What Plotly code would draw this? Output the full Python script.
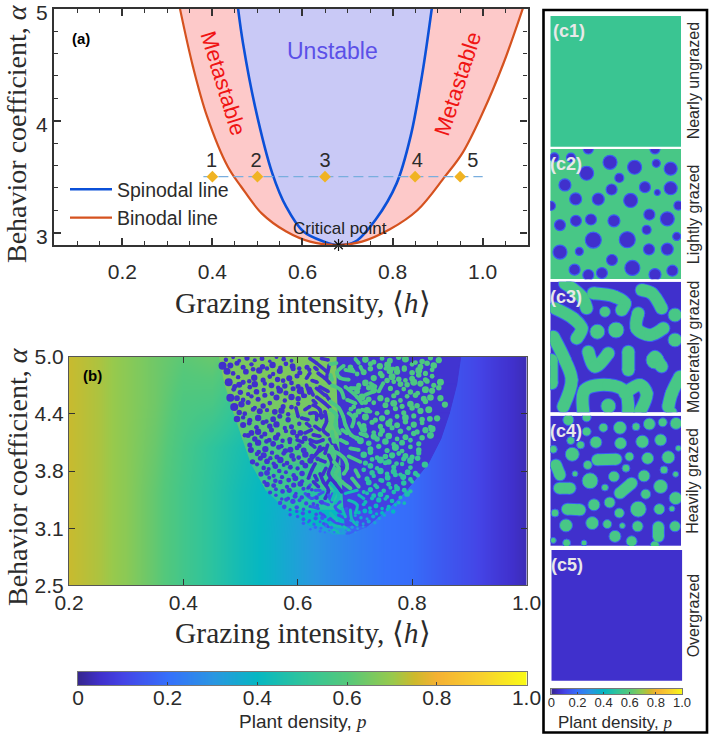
import plotly.graph_objects as go
from plotly.colors import sample_colorscale

W, H = 709, 736
SANS = "Liberation Sans"
SERIF = "Liberation Serif"
INK = "#2b2b2b"

colorscale = [[0, "#36278f"], [0.05, "#4030cc"], [0.1, "#4444e6"], [0.2, "#3570fb"], [0.3, "#2a96e2"],
              [0.4, "#06b7c2"], [0.5, "#2fc49c"], [0.6, "#55c87a"], [0.7, "#98c94c"], [0.75, "#cdb92c"],
              [0.8, "#f5b133"], [0.9, "#f8d12e"], [1.0, "#f9fb15"]]
cbar_levels = [0, .05, .1, .2, .3, .4, .5, .6, .7, .75, .8, .9, 1.0]
cbar_ticks = [0, .2, .4, .6, .8, 1.0]
cbar_text = ["0", "0.2", "0.4", "0.6", "0.8", "1.0"]

# ---------- panel (a) ----------
binodal_h = [.328, .357, .388, .434, .464, .51, .564, .617, .679, .732, .794, .855, .916, .955, 1.0, 1.046, 1.089]
binodal_a = [5, 4.48, 4.04, 3.59, 3.41, 3.17, 3.01, 2.92, 2.89, 2.92, 3.03, 3.2, 3.5, 3.71, 4.07, 4.51, 5]
spinodal_h = [.457, .468, .495, .533, .564, .602, .648, .679, .717, .763, .809, .84, .866, .887]
spinodal_a = [5, 4.69, 4.12, 3.53, 3.23, 3.01, 2.92, 2.89, 2.92, 3.12, 3.44, 3.86, 4.42, 5]
state_h = [.4, .5, .65, .85, .95]
state_labels = ["1", "2", "3", "4", "5"]
state_label_h = [.398, .497, .65, .855, .978]
state_alpha = 3.5
state_label_alpha = 3.63
critical_h, critical_a = .68, 2.89

# ---------- panel (b) background: p(h, alpha) ----------
bg_h = [.2, .25, .3, .35, .4, .45, .5, .55, .6, .65, .7, .75, .8, .85, .9, .95, 1.0]
bg_alpha = [2.5, 3.0, 3.5, 4.0, 4.5, 5.0]
bg_p = [
    [.745, .72, .68, .62, .55, .49, .43, .385, .33, .28, .24, .205, .19, .15, .115, .07, .03],
    [.745, .72, .68, .62, .55, .49, .43, .385, .33, .28, .24, .205, .19, .15, .115, .07, .03],
    [.745, .72, .68, .62, .55, .49, .43, .39, .34, .28, .24, .205, .19, .15, .115, .07, .03],
    [.745, .72, .68, .63, .56, .50, .45, .40, .34, .28, .24, .205, .19, .15, .115, .07, .03],
    [.745, .72, .68, .64, .58, .57, .50, .40, .34, .28, .24, .205, .19, .15, .115, .07, .03],
    [.745, .72, .68, .64, .61, .63, .58, .45, .34, .28, .24, .205, .19, .15, .115, .07, .03],
]
bowl_alpha = [5.0, 4.7, 4.38, 4.1, 3.83, 3.54, 3.32, 3.14, 3.06]
bowl_left = [.462, .472, .488, .503, .518, .544, .58, .622, .66]
bowl_mid = [.668, .668, .67, .672, .675, .678, .68, .682, .684]
bowl_right = [.885, .878, .865, .85, .828, .79, .755, .72, .69]
bowl_green = [.66, .65, .62, .58, .54, .48, .40, .33, .28]
bowl_dark = [.06, .06, .06, .065, .07, .09, .12, .17, .2]

# dots read along rows of the pattern (h as read, corrected by pattern_h_scale)
pattern_h_scale = .972
dark_alpha = [4.976, 4.90, 4.84, 4.76, 4.69, 4.62, 4.55, 4.47, 4.40, 4.32, 4.25, 4.17, 4.11, 4.05,
              3.98, 3.92, 3.86, 3.80, 3.72, 3.66, 3.60, 3.53, 3.47, 3.41, 3.35, 3.29, 3.23, 3.18, 3.13, 3.09]
dark_size = [4.5, 5.5, 5.5, 5.5, 5.5, 5.5, 5.5, 5.5, 5.5, 5.5, 5.5, 5.5, 5.5, 5.5, 5.5, 5.5, 5.5, 5, 5, 5, 5, 4.5,
             4.5, 4.5, 4, 4, 3.8, 3.4, 3, 2.6]
dark_p = [.05, .05, .05, .05, .05, .05, .05, .05, .05, .05, .05, .05, .05, .05, .06, .06, .06, .06, .07, .07, .07, .08,
          .09, .1, .11, .12, .14, .16, .18, .2]
dark_h = [
    [.488, .501, .512, .526, .54, .553, .567, .579, .592, .606],
    [.496, .508, .519, .534, .554, .562, .572, .586, .596, .608, .62, .634],
    [.501, .524, .537, .548, .573, .585, .609, .621, .638],
    [.51, .53, .539, .555, .567, .581, .591, .602, .616],
    [.504, .512, .519, .531, .54, .558, .57, .582, .594, .606, .618],
    [.502, .514, .528, .543, .556, .571, .585, .596, .609, .621],
    [.508, .519, .534, .546, .558, .579, .594, .606, .618, .63],
    [.516, .528, .54, .555, .567, .591, .606, .618],
    [.512, .522, .537, .549, .562, .576, .588, .6],
    [.519, .531, .546, .561, .573, .585, .6],
    [.519, .53, .543, .555, .567, .579, .594, .606, .62],
    [.522, .534, .546, .558, .57, .582, .596, .609, .622],
    [.528, .54, .552, .566, .578, .59, .603, .616, .63],
    [.531, .546, .561, .573, .588, .603, .62],
    [.547, .559, .571, .583, .595, .604, .616, .628],
    [.544, .556, .568, .58, .592, .607, .619, .631, .643],
    [.536, .55, .562, .574, .586, .598, .61, .625, .64, .653],
    [.544, .556, .565, .577, .592, .604, .617, .631],
    [.551, .562, .574, .584, .596, .61, .625],
    [.557, .566, .577, .589, .601, .613, .625],
    [.562, .574, .586, .598, .61, .622, .637],
    [.5675, .578, .59, .602, .614, .6275, .6425],
    [.578, .5885, .6, .6125, .6245, .6365, .6515],
    [.5855, .5965, .6085, .6205, .6325, .6455, .6605],
    [.593, .6035, .6155, .6275, .6395, .6525],
    [.6035, .6155, .6265, .6385, .6505, .6635],
    [.617, .6275, .6385, .6495, .6615, .673],
    [.6275, .6365, .6465, .6575, .6685],
    [.64, .649, .659, .668, .678],
    [.6575, .666, .674, .683],
]
# each digit: how far a dot sits off its row and how big it looks (hand estimate, 0..9)
dark_drift = ["3716250841", "592730618402", "148605927", "706283159", "25916740382", "8304716295", "4172950638",
              "69038217", "31857460", "7260493", "581936027", "04629175", "93715028", "2684071",
              "16093584", "750284163", "3940617258", "82057316", "4619725", "0728361", "5391460", "2846097",
              "7015382", "3968214", "605179", "184720", "930562", "47281", "06395", "5172"]
dark_big_h = [.482, .490, .493, .496, .503, .508, .533]
dark_big_a = [4.90, 4.84, 4.72, 4.55, 4.45, 4.32, 3.98]
dark_big_size = [8, 7, 8, 8, 8, 6.5, 6]

green_alpha = [4.965, 4.90, 4.84, 4.77, 4.71, 4.63, 4.55, 4.48, 4.41, 4.33, 4.26, 4.20, 4.13, 4.07,
               3.997, 3.925, 3.86, 3.81, 3.74, 3.68, 3.615, 3.55, 3.49, 3.425, 3.365, 3.305, 3.25, 3.19, 3.13, 3.09]
green_size = [6, 6, 6, 6, 6, 6, 6, 6, 6, 6, 6, 6, 6, 6, 6, 6, 6, 5.5, 5.5, 5.5, 5, 5, 5, 4.5, 4.5, 4.2, 3.8, 3.5, 3, 2.6]
green_p = [.58, .58, .58, .58, .58, .58, .58, .58, .58, .57, .57, .56, .56, .55, .55, .54, .53, .52, .51, .5, .49, .48,
           .46, .44, .42, .4, .37, .34, .31, .29]
green_h = [
    [.739, .754, .769, .783, .799, .811, .829, .841, .856, .871],
    [.712, .748, .765, .779, .796, .809, .823, .838, .85, .862],
    [.715, .724, .736, .748, .766, .783, .796, .809, .823, .835, .847, .859],
    [.754, .769, .787, .799, .811, .823, .835, .847, .859],
    [.727, .739, .751, .778, .79, .802, .814, .826, .838, .85, .862, .874],
    [.724, .745, .754, .784, .796, .808, .82, .833, .847, .859, .871],
    [.733, .745, .766, .778, .79, .802, .814, .829, .844, .856, .874],
    [.718, .739, .754, .775, .79, .805, .82, .832, .847, .882],
    [.713, .727, .742, .76, .778, .793, .808, .823, .838, .853],
    [.721, .739, .757, .769, .784, .796, .811, .826, .841, .855, .868],
    [.736, .751, .766, .781, .796, .811, .826, .841, .856],
    [.736, .754, .769, .787, .802, .817, .832, .847, .859],
    [.724, .739, .754, .766, .781, .796, .811, .826, .841, .856],
    [.73, .745, .76, .775, .79, .805, .82, .835],
    [.748, .763, .778, .793, .805, .82, .835],
    [.736, .748, .76, .775, .787, .799, .811, .823, .835],
    [.739, .751, .766, .781, .795, .808, .82, .833],
    [.748, .76, .775, .79, .805, .82, .846],
    [.736, .751, .766, .778, .79, .802, .815, .829],
    [.742, .754, .766, .779, .793, .807, .82, .833],
    [.745, .757, .769, .781, .794, .808, .823],
    [.736, .748, .76, .772, .784, .796, .809, .82],
    [.742, .754, .766, .778, .79, .802, .814],
    [.739, .751, .763, .775, .787, .799, .809],
    [.736, .747, .758, .769, .781, .793],
    [.727, .738, .748, .759, .769, .779, .789],
    [.721, .731, .742, .753, .764, .773],
    [.713, .724, .735, .745, .756],
    [.706, .715, .725, .735],
    [.694, .703, .712, .721],
]
green_drift = ["5173960284", "2846017395", "703915482617", "486203917", "150973264816", "39581720649", "6241807935",
               "0873615294", "7350281946", "96140758234", "281639470", "503827146", "1748503926", "62950371",
               "3816072", "590247318", "17630859", "4092716", "83615042", "27049518", "6193057",
               "04827631", "7351906", "2968410", "815037", "3640295", "720518", "94163", "0628", "5371"]

green_worms_upper = [
    [(.700, 4.90), (.688, 4.83), (.693, 4.77), (.709, 4.75)],
    [(.676, 4.92), (.687, 4.93)],
    [(.679, 4.685), (.694, 4.64), (.700, 4.55)],
    [(.703, 4.67), (.724, 4.56), (.733, 4.49)],
    [(.676, 4.51), (.691, 4.44), (.699, 4.345), (.703, 4.255), (.713, 4.145), (.724, 4.11)],
    [(.676, 4.42), (.687, 4.36), (.685, 4.255), (.693, 4.16)],
    [(.73, 4.16), (.742, 4.13)],
    [(.771, 4.71), (.763, 4.62)],
    [(.73, 4.89), (.736, 4.82)],
    [(.775, 4.87), (.79, 4.87)],
    [(.721, 4.975), (.727, 4.93)],
    [(.733, 4.42), (.748, 4.40)],
    [(.703, 4.856), (.718, 4.838)],
    [(.712, 4.655), (.727, 4.655)],
    [(.706, 4.528), (.721, 4.49)],
    [(.709, 4.382), (.718, 4.327), (.715, 4.236)],
    [(.727, 4.273), (.733, 4.2)],
    [(.697, 4.2), (.706, 4.163)],
    [(.748, 4.71), (.757, 4.674)],
    [(.754, 4.62), (.739, 4.583)],
    [(.676, 4.8), (.679, 4.747)],
    [(.679, 4.18), (.682, 4.07)],
    [(.694, 4.09), (.706, 4.054)],
    [(.676, 3.98), (.691, 3.94), (.703, 3.87), (.706, 3.78), (.70, 3.72)],
    [(.682, 3.85), (.691, 3.78), (.685, 3.706), (.697, 3.63), (.712, 3.56)],
    [(.709, 3.91), (.73, 3.85)],
    [(.712, 3.998), (.727, 3.98)],
    [(.721, 3.76), (.727, 3.69)],
    [(.715, 3.67), (.727, 3.578)],
]
green_worms_lower = [
    [(.676, 3.615), (.691, 3.487), (.685, 3.40)],
    [(.703, 3.505), (.724, 3.54)],
    [(.709, 3.43), (.724, 3.38), (.721, 3.29)],
    [(.697, 3.34), (.703, 3.25)],
    [(.676, 3.29), (.688, 3.21)],
    [(.676, 3.16), (.694, 3.14)],
    [(.727, 3.487), (.736, 3.45)],
    [(.712, 3.323), (.715, 3.214), (.724, 3.159)],
    [(.685, 3.524), (.679, 3.433)],
    [(.70, 3.14), (.709, 3.105)],
    [(.682, 3.105), (.691, 3.079)],
]
dark_worms_upper = [
    [(.639, 4.98), (.651, 4.93), (.669, 4.84)],
    [(.654, 4.82), (.666, 4.765), (.675, 4.71)],
    [(.639, 4.82), (.633, 4.765)],
    [(.651, 4.56), (.666, 4.49), (.675, 4.44)],
    [(.639, 4.655), (.645, 4.58)],
    [(.614, 4.44), (.618, 4.345)],
    [(.657, 4.67), (.672, 4.62)],
    [(.639, 4.38), (.65, 4.38), (.651, 4.31)],
    [(.666, 4.40), (.669, 4.29), (.663, 4.20), (.672, 4.145)],
    [(.633, 4.27), (.639, 4.24)],
    [(.645, 4.145), (.657, 4.13)],
    [(.616, 4.09), (.626, 4.065)],
    [(.633, 4.69), (.638, 4.60)],
    [(.624, 4.655), (.627, 4.565)],
    [(.651, 4.655), (.666, 4.58)],
    [(.645, 4.47), (.657, 4.42), (.66, 4.33)],
    [(.63, 4.42), (.639, 4.455)],
    [(.624, 4.33), (.636, 4.31)],
    [(.648, 4.24), (.657, 4.2)],
    [(.63, 4.165), (.642, 4.2)],
    [(.639, 4.09), (.651, 4.065), (.663, 4.09)],
    [(.669, 4.765), (.674, 4.91)],
    [(.66, 4.98), (.672, 4.965)],
    [(.6545, 3.96), (.6635, 3.998)],
    [(.6845, 4.03), (.6905, 3.925), (.6875, 3.815), (.6995, 3.78)],
    [(.6725, 3.925), (.6785, 3.83), (.6725, 3.72), (.6845, 3.615), (.6965, 3.52)],
    [(.6575, 3.87), (.6665, 3.85)],
    [(.6365, 3.67), (.6425, 3.76), (.6485, 3.83)],
    [(.6575, 3.72), (.6635, 3.63), (.6725, 3.54), (.6665, 3.45)],
    [(.6425, 3.888), (.6515, 3.943), (.6575, 4.016)],
    [(.6665, 3.943), (.671, 4.034)],
    [(.6455, 3.633), (.6545, 3.578)],
    [(.648, 4.88), (.652, 4.86)],
    [(.643, 4.74), (.652, 4.72)],
    [(.645, 4.52), (.65, 4.49)],
    [(.655, 4.36), (.664, 4.35)],
    [(.668, 4.58), (.674, 4.53)],
    [(.64, 4.05), (.648, 4.01)],
    [(.675, 4.1), (.68, 4.05)],
    [(.668, 3.78), (.662, 3.71)],
    [(.648, 3.7), (.652, 3.65)],
    [(.675, 3.66), (.668, 3.6)],
]
dark_worms_lower = [
    [(.6485, 3.54), (.6575, 3.54)],
    [(.6935, 3.415), (.6845, 3.36), (.6935, 3.305), (.7055, 3.34)],
    [(.6575, 3.415), (.6725, 3.38)],
    [(.6755, 3.23), (.6875, 3.18), (.6995, 3.16)],
    [(.6575, 3.29), (.6665, 3.25)],
    [(.6305, 3.505), (.6425, 3.45), (.6515, 3.47)],
    [(.6425, 3.36), (.6545, 3.34)],
    [(.6785, 3.414), (.6725, 3.487)],
    [(.6635, 3.177), (.6725, 3.14)],
    [(.6905, 3.27), (.7025, 3.23)],
    [(.64, 3.6), (.635, 3.56)],
    [(.663, 3.52), (.655, 3.49)],
    [(.68, 3.5), (.675, 3.45)],
]

# ---------- panels (c): lattice positions in percent of the domain ----------
p_ungrazed, p_over, p_green, p_dark = .53, .05, .565, .05
c2_x = [3.1, 15.8, 29.1, 80.1, 45.7, 64.5, 81.1, 92.1, 27.8, 52.8, 11.2, 46.9, 72.4, 81.9, 92.1, 19.4, 36.7, 61.5, .5,
        98, 75.8, 89.5, 7.4, 19.6, 31.1, 48.7, 73.7, 96.7, 32.9, 58.9, 22.2, 7.4, 75.5, 89.5, 47.2, 62.8, 18.6, 29.1,
        39.5, 80.1, 93.4]
c2_y = [93.6, 93.4, 100, 100, 89.8, 86, 89, 84.9, 81.4, 77.8, 72.4, 68.9, 70.7, 66.6, 69.9, 61.7, 61.5, 60.5, 56.4,
        56.6, 49.7, 46.4, 41.6, 44.9, 45.9, 44.9, 38, 32.9, 30.1, 30.4, 21.4, 20.9, 23, 23.2, 14.8, 8.7, 7.4, 3.3,
        4.8, 3.6, 6.6]
c2_d = [9, 9, 10, 10, 14, 14, 8, 13, 14, 9, 12, 11, 11, 6, 13, 12, 12, 14, 9, 9, 11, 14, 11, 11, 11, 12, 9, 8, 16, 16, 8,
        14, 11, 12, 11, 15, 11, 11, 11, 12, 11]

c3_worms = [
    [(11.2, 98.7), (24, 88.5), (27.8, 79.6)],
    [(3.6, 79.6), (17.6, 71.9), (24, 64.3), (20.2, 56.6)],
    [(32.9, 91.1), (49.5, 88.5), (57.1, 83.4), (54.6, 78.3)],
    [(69.9, 93.6), (77.6, 91.1), (85.2, 79.6)],
    [(67.3, 75.8), (66.1, 64.3), (76.3, 59.2), (86.5, 64.3)],
    [(29.1, 46.4), (34.2, 35), (44.4, 45.2)],
    [(59.7, 46.4), (59.7, 32.4)],
    [(80.1, 42.6), (85.2, 35)],
    [(2.3, 57.9), (11.2, 40), (16.3, 24.7), (9.9, 4.3)],
    [(1, 40), (1, 22.2)],
    [(25.3, .5), (26.5, 17.1), (44.4, 20.9), (57.1, 15.8), (59.7, .5)],
    [(57.1, 14.5), (68.6, 20.9), (73.7, 14.5), (68.6, .5)],
    [(99.2, 27.3), (92.9, 14.5), (90.3, 4.3)],
]
c3_blob_x = [41.8, 36, 50.3, 95.4, 95.4, 44.4, 92.9, 80.1]
c3_blob_y = [77, 61.7, 63, 74.5, 55.4, 4.8, 0, 40]
c3_blob_d = [11, 15, 16, 14, 14, 15, 11, 18]

c4_x = [40.6, 53.3, 65.6, 75.8, 86, 96.2, 13.8, 27.8, 27.8, 15.6, 23.2, 34.9, 53.8, 70.4, 84.4, 2.3, 16.8, 60.5, 74.5,
        90.3, 98, 28.6, 57.9, 18.9, 48.7, 71.7, 87, 95.9, 30.4, 41.8, 73, 84.4, 95.9, 33.4, 45.4, 52.8, 67.3, 83.4,
        93.1, 3.6, 12, 32.1, 43.6, 55.1, 66.8, 95.4, 2.3, 12.5, 49.5, 62.2, 25.8, 80]
c4_y = [90.8, 90.8, 91.6, 93.6, 94.9, 94.1, 96.7, 98.7, 87.8, 80.9, 77.6, 79.6, 78.8, 80.1, 81.4, 74.2, 70.4, 68.6,
        67.3, 68.1, 75, 62.2, 59.7, 55.4, 53.3, 53.8, 58.4, 55.1, 50, 44.9, 39.8, 45.7, 36.7, 31.6, 33.4, 25.3, 28.3,
        28.3, 28.6, 25.3, 15.8, 17.6, 16.8, 15.6, 15.1, 15.1, 4.3, 2.3, 7.4, 3.6, 2.3, .5]
c4_d = [9, 13, 8, 12, 9, 12, 11, 9, 9, 8, 8, 12, 12, 13, 12, 8, 14, 9, 12, 13, 6, 9, 8, 6, 11, 12, 8, 6, 16, 7, 10, 14,
        13, 12, 11, 10, 16, 11, 6, 8, 13, 13, 9, 6, 11, 11, 6, 8, 12, 11, 6, 9]
c4_worms = [
    [(36, 66.1), (50.3, 66.6)],
    [(4.3, 62.2), (7.4, 54.6)],
    [(6.9, 44.4), (15.1, 44.4)],
    [(53.3, 40.6), (62.2, 48.2)],
    [(13, 28.3), (22.7, 27.8)],
    [(82.7, 14.5), (82.7, 7.4)],
]
c_names = ["Nearly ungrazed", "Lightly grazed", "Moderately grazed", "Heavily grazed", "Overgrazed"]


def pc(p):
    return sample_colorscale(colorscale, [p])[0]


def dx(l, r):
    return [l / W, r / W]


def dy(t, b):
    return [1 - b / H, 1 - t / H]


def join(worms, scale=1.0):
    xs, ys = [], []
    for w in worms:
        xs += [q[0] * scale for q in w] + [None]
        ys += [q[1] for q in w] + [None]
    return xs, ys


fig = go.Figure()

# ---- panel a
fig.add_trace(go.Scatter(x=binodal_h, y=binodal_a, mode="lines", line=dict(width=0, shape="spline"), fill="toself",
                         fillcolor="#fdc9c9", showlegend=False, hoverinfo="skip"))
fig.add_trace(go.Scatter(x=spinodal_h, y=spinodal_a, mode="lines", line=dict(width=0, shape="spline"), fill="toself",
                         fillcolor="#c9c9f6", showlegend=False, hoverinfo="skip"))
fig.add_trace(go.Scatter(x=spinodal_h, y=spinodal_a, mode="lines", name="Spinodal line",
                         line=dict(color="#0b50d8", width=2.6, shape="spline")))
fig.add_trace(go.Scatter(x=binodal_h, y=binodal_a, mode="lines", name="Binodal line",
                         line=dict(color="#d5521f", width=2.2, shape="spline")))
fig.add_trace(go.Scatter(x=[.38, 1.0], y=[state_alpha] * 2, mode="lines", showlegend=False,
                         line=dict(color="#79aede", width=1.3, dash="10px,5px")))
fig.add_trace(go.Scatter(x=state_h, y=[state_alpha] * 5, mode="markers",
                         marker=dict(symbol="diamond", size=9, color="#f0b323"), showlegend=False))
fig.add_trace(go.Scatter(x=state_label_h, y=[state_label_alpha] * 5, mode="text", text=state_labels, showlegend=False,
                         textfont=dict(family=SANS, size=20, color=INK)))
fig.add_trace(go.Scatter(x=[critical_h], y=[critical_a], mode="markers", showlegend=False, cliponaxis=False,
                         marker=dict(symbol="asterisk-open", size=10, color="#111", line=dict(color="#111", width=1.2))))

# ---- panel b
fig.add_trace(go.Heatmap(x=bg_h, y=bg_alpha, z=bg_p, xaxis="x2", yaxis="y2", zsmooth="best", zmin=0, zmax=1,
                         colorscale=colorscale, hoverinfo="skip", showscale=False))
for i in range(len(bowl_alpha) - 1):
    ys = [bowl_alpha[i], bowl_alpha[i], bowl_alpha[i + 1], bowl_alpha[i + 1]]
    for a, b, c in ((bowl_left, bowl_mid, bowl_green), (bowl_mid, bowl_right, bowl_dark)):
        col = pc(c[i])
        fig.add_trace(go.Scatter(x=[a[i], b[i], b[i + 1], a[i + 1]], y=ys, xaxis="x2", yaxis="y2", mode="lines",
                                 fill="toself", fillcolor=col, line=dict(color=col, width=1), showlegend=False,
                                 hoverinfo="skip"))
for worms, p, wd in ((dark_worms_upper, .05, 3.6), (dark_worms_lower, .13, 3),
                     (green_worms_upper, .57, 3.8), (green_worms_lower, .44, 3)):
    xs, ys = join(worms, pattern_h_scale)
    fig.add_trace(go.Scatter(x=xs, y=ys, xaxis="x2", yaxis="y2", mode="lines+markers", showlegend=False,
                             line=dict(color=pc(p), width=wd, shape="spline"),
                             marker=dict(color=pc(p), size=wd, opacity=1), hoverinfo="skip"))
for alpha_rows, h_rows, sizes, ps, drift in ((dark_alpha, dark_h, dark_size, dark_p, dark_drift),
                                             (green_alpha, green_h, green_size, green_p, green_drift)):
    for a, hs, s, p, dr in zip(alpha_rows, h_rows, sizes, ps, drift):
        digits = [int(c) for c in dr] + [4] * len(hs)
        fig.add_trace(go.Scatter(x=[h * pattern_h_scale for h in hs],
                                 y=[a + (digits[j] - 4.5) * .0065 * min(1, s / 5) for j in range(len(hs))],
                                 xaxis="x2", yaxis="y2", mode="markers", showlegend=False, hoverinfo="skip",
                                 marker=dict(color=pc(p), size=[s * (.8 + .06 * (digits[j] % 7)) for j in range(len(hs))],
                                             opacity=1, line=dict(width=0))))
fig.add_trace(go.Scatter(x=[h * pattern_h_scale for h in dark_big_h], y=dark_big_a, xaxis="x2", yaxis="y2",
                         mode="markers", showlegend=False, hoverinfo="skip",
                         marker=dict(color=pc(.05), size=dark_big_size, opacity=1, line=dict(width=0))))

# ---- panels c
for n, v in ((3, p_ungrazed), (4, p_green), (5, p_dark), (6, p_dark), (7, p_over)):
    fig.add_trace(go.Heatmap(z=[[v, v], [v, v]], x=[0, 100], y=[0, 100], xaxis=f"x{n}", yaxis=f"y{n}", zmin=0, zmax=1,
                             colorscale=colorscale, hoverinfo="skip", showscale=False, zsmooth="best"))

fig.add_trace(go.Scatter(x=c2_x, y=c2_y, xaxis="x4", yaxis="y4", mode="markers", showlegend=False, hoverinfo="skip",
                         marker=dict(color=pc(p_dark), size=c2_d, opacity=1, line=dict(color=pc(.16), width=1.2))))

xs3, ys3 = join(c3_worms)
xs4, ys4 = join(c4_worms)
for n, xs, ys, wd, bx, by, bd in ((5, xs3, ys3, 12, c3_blob_x, c3_blob_y, c3_blob_d), (6, xs4, ys4, 11, c4_x, c4_y, c4_d)):
    halo = pc(.16)
    fig.add_trace(go.Scatter(x=xs, y=ys, xaxis=f"x{n}", yaxis=f"y{n}", mode="lines+markers", showlegend=False,
                             line=dict(color=halo, width=wd + 2, shape="spline"),
                             marker=dict(color=halo, size=wd + 2, opacity=1), hoverinfo="skip"))
    fig.add_trace(go.Scatter(x=bx, y=by, xaxis=f"x{n}", yaxis=f"y{n}", mode="markers", showlegend=False, hoverinfo="skip",
                             marker=dict(color=pc(p_green), size=bd, opacity=1, line=dict(color=halo, width=1))))
    fig.add_trace(go.Scatter(x=xs, y=ys, xaxis=f"x{n}", yaxis=f"y{n}", mode="lines+markers", showlegend=False,
                             line=dict(color=pc(p_green), width=wd, shape="spline"),
                             marker=dict(color=pc(p_green), size=wd, opacity=1), hoverinfo="skip"))

# ---- gradient strips (colour keys)
for n in (8, 9):
    fig.add_trace(go.Heatmap(x=cbar_levels, y=[0, 1], z=[cbar_levels, cbar_levels], xaxis=f"x{n}", yaxis=f"y{n}",
                             zmin=0, zmax=1, colorscale=colorscale, zsmooth="best", showscale=False, hoverinfo="skip"))

# ---- axes
axfont = dict(family=SANS, size=21, color=INK)
layout = dict(
    width=W, height=H, margin=dict(l=0, r=0, t=0, b=0, autoexpand=False), paper_bgcolor="white", plot_bgcolor="white",
    showlegend=True,
    legend=dict(x=65 / W, xanchor="left", y=1 - 170 / H, yanchor="top", bgcolor="rgba(0,0,0,0)", itemwidth=42,
                font=dict(family=SANS, size=19.5, color=INK), tracegroupgap=0),
    xaxis=dict(domain=dx(54, 527.5), range=[.0484, 1.0995], tickvals=[.2, .4, .6, .8, 1.0],
               ticktext=["0.2", "0.4", "0.6", "0.8", "1.0"], ticks="inside", ticklen=7, tickwidth=1.6, tickcolor="#333",
               mirror="allticks", showline=True, linecolor="#333", linewidth=2.2, showgrid=False, zeroline=False,
               tickfont=axfont, ticklabelstandoff=7,
               minor=dict(dtick=.05, tick0=0, ticks="inside", ticklen=4, tickwidth=1.4, tickcolor="#333")),
    yaxis=dict(domain=dy(8.5, 245), range=[2.89, 5.001], tickvals=[3, 4, 5], ticks="inside", ticklen=7, tickwidth=1.6,
               tickcolor="#333", mirror="allticks", showline=True, linecolor="#333", linewidth=2.2, showgrid=False,
               zeroline=False, tickfont=axfont, ticklabeloverflow="allow", ticklabelshift=4,
               minor=dict(dtick=.2, tick0=3, ticks="inside", ticklen=4, tickwidth=1.4, tickcolor="#333")),
    xaxis2=dict(domain=dx(69, 526.5), range=[.2, 1.0], tickvals=[.2, .4, .6, .8, 1.0],
                ticktext=["0.2", "0.4", "0.6", "0.8", "1.0"], ticks="inside", ticklen=6, tickwidth=1.4, tickcolor="#333",
                mirror="allticks", showline=True, linecolor="#555", linewidth=1, showgrid=False, zeroline=False,
                tickfont=axfont, ticklabelstandoff=-2, anchor="y2"),
    yaxis2=dict(domain=dy(356.7, 585.3), range=[2.5, 5], tickvals=[2.5, 3.125, 3.75, 4.375, 5],
                ticktext=["2.5", "3.1", "3.8", "4.4", "5.0"], ticks="inside", ticklen=6, tickwidth=1.4, tickcolor="#333",
                mirror="allticks", showline=True, linecolor="#555", linewidth=1, showgrid=False, zeroline=False,
                tickfont=axfont, anchor="x2"),
)
c_boxes = [(550.3, 681, 16, 146.7), (550.3, 681, 149, 279.3), (550.3, 681, 281.7, 412.3), (550.3, 681, 415.7, 546),
           (551.3, 682.3, 550, 680.7)]
for k, (l, r, t, b) in enumerate(c_boxes):
    n = k + 3
    layout[f"xaxis{n}"] = dict(domain=dx(l, r), range=[0, 100], visible=False, anchor=f"y{n}")
    layout[f"yaxis{n}"] = dict(domain=dy(t, b), range=[0, 100], visible=False, anchor=f"x{n}")
strips = [(8, 78, 526.5, 672, 685, 21, -6, 3), (9, 551.3, 682, 689, 694, 13, -4, 2)]
for n, l, r, t, b, fs, standoff, tl in strips:
    layout[f"xaxis{n}"] = dict(domain=dx(l, r), range=[0, 1], tickvals=cbar_ticks, ticktext=cbar_text, ticks="inside",
                               ticklen=tl, tickwidth=1, tickcolor="#444", showline=True, mirror=True, linecolor="#777",
                               linewidth=1, showgrid=False, zeroline=False, ticklabelstandoff=standoff,
                               tickfont=dict(family=SANS, size=fs, color=INK), anchor=f"y{n}")
    layout[f"yaxis{n}"] = dict(domain=dy(t, b), range=[0, 1], showticklabels=False, ticks="", showline=True, mirror=True,
                               linecolor="#777", linewidth=1, showgrid=False, zeroline=False, anchor=f"x{n}")
fig.update_layout(**layout)

# ---- frame and annotations
fig.add_shape(type="rect", xref="paper", yref="paper", x0=543.5 / W, x1=707 / W, y0=1 - 732.5 / H, y1=1 - 10 / H,
              line=dict(color="black", width=2.6), fillcolor="rgba(0,0,0,0)")


def note(text, x, y, xref="x", yref="y", size=14, color="black", bold=False, angle=0, family=SANS):
    fig.add_annotation(text=f"<b>{text}</b>" if bold else text, x=x, y=y, xref=xref, yref=yref, showarrow=False,
                       textangle=angle, font=dict(family=family, size=size, color=color), xanchor="center",
                       yanchor="middle")


def pnote(text, px, py, **kw):
    note(text, px / W, 1 - py / H, xref="paper", yref="paper", **kw)


note("(a)", .108, 4.73, size=15, bold=True)
note("Unstable", .667, 4.62, size=23, color="#5b50e8")
note("Metastable", .424, 4.33, size=22, color="#f01414", angle=73)
note("Metastable", .945, 4.33, size=22, color="#f01414", angle=-72)
note("Critical point", .683, 3.04, size=17, color="#222")
note("(b)", .241, 4.79, xref="x2", yref="y2", size=15, bold=True)
xtitle = "Grazing intensity, ⟨<i>h</i>⟩"
ytitle = "Behavior coefficient, <i>α</i>"
pnote(xtitle, 303, 303, size=29.5, color=INK, family=SERIF)
pnote(ytitle, 17, 134, size=28, color=INK, family=SERIF, angle=-90)
pnote(xtitle, 303, 633, size=29.5, color=INK, family=SERIF)
pnote(ytitle, 17, 477, size=28, color=INK, family=SERIF, angle=-90)
ptxt = "Plant density, <span style=\"font-family:'Liberation Serif'\"><i>p</i></span>"
pnote(ptxt, 302, 721, size=19, color=INK)
pnote(ptxt, 615, 722, size=17, color=INK)
for k, label in enumerate(["(c1)", "(c2)", "(c3)", "(c4)", "(c5)"]):
    n = k + 3
    note(label, 14 if k == 0 else 12, 88.5, xref=f"x{n}", yref=f"y{n}", size=18, color="#e8e8e8", bold=True)
    t = c_boxes[k]
    pnote(c_names[k], 693, (t[2] + t[3]) / 2, size=16, color=INK, angle=-90)

fig.write_html("out.html", config={"displayModeBar": False},
               post_script="document.body.style.margin='0';document.body.style.overflow='hidden';")
